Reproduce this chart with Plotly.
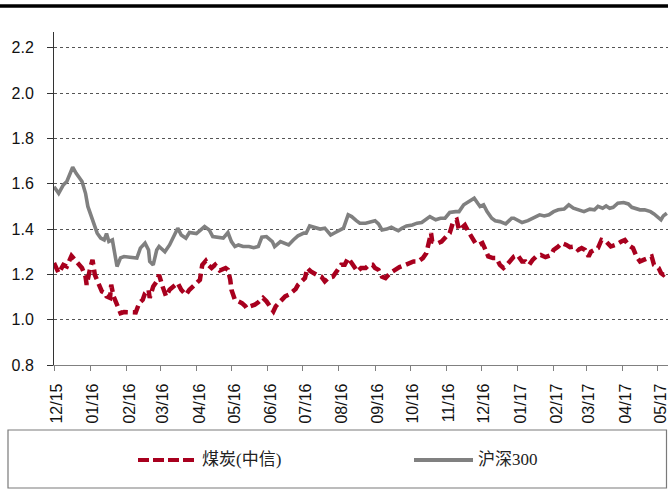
import plotly.graph_objects as go

# ---- data -------------------------------------------------------------
month_ticks = ["2015-12-01", "2016-01-01", "2016-02-01", "2016-03-01", "2016-04-01",
               "2016-05-01", "2016-06-01", "2016-07-01", "2016-08-01", "2016-09-01",
               "2016-10-01", "2016-11-01", "2016-12-01", "2017-01-01", "2017-02-01",
               "2017-03-01", "2017-04-01", "2017-05-01"]
month_labels = ["12/15", "01/16", "02/16", "03/16", "04/16", "05/16", "06/16", "07/16",
                "08/16", "09/16", "10/16", "11/16", "12/16", "01/17", "02/17", "03/17",
                "04/17", "05/17"]

coal_name = "煤炭(中信)"
coal_dates = [
    "2015-12-01", "2015-12-05", "2015-12-09", "2015-12-12", "2015-12-16", "2015-12-22",
    "2015-12-25", "2015-12-28", "2015-12-29", "2016-01-01", "2016-01-03", "2016-01-05",
    "2016-01-07", "2016-01-08", "2016-01-11", "2016-01-14", "2016-01-15", "2016-01-18",
    "2016-01-19", "2016-01-21", "2016-01-24", "2016-01-27", "2016-01-30", "2016-02-04",
    "2016-02-09", "2016-02-12", "2016-02-15", "2016-02-17", "2016-02-20", "2016-02-21",
    "2016-02-24", "2016-02-27", "2016-02-29", "2016-03-03", "2016-03-06", "2016-03-09",
    "2016-03-14", "2016-03-16", "2016-03-19", "2016-03-23", "2016-03-26", "2016-03-30",
    "2016-04-04", "2016-04-06", "2016-04-09", "2016-04-11", "2016-04-14", "2016-04-17",
    "2016-04-21", "2016-04-26", "2016-04-28", "2016-04-30", "2016-05-01", "2016-05-04",
    "2016-05-07", "2016-05-10", "2016-05-13", "2016-05-14", "2016-05-17", "2016-05-21",
    "2016-05-24", "2016-05-28", "2016-05-31", "2016-06-03", "2016-06-06", "2016-06-08",
    "2016-06-12", "2016-06-16", "2016-06-19", "2016-06-22", "2016-06-25", "2016-06-27",
    "2016-06-30", "2016-07-03", "2016-07-05", "2016-07-08", "2016-07-13", "2016-07-17",
    "2016-07-20", "2016-07-23", "2016-07-27", "2016-07-31", "2016-08-03", "2016-08-06",
    "2016-08-09", "2016-08-12", "2016-08-14", "2016-08-17", "2016-08-20", "2016-08-24",
    "2016-08-27", "2016-08-30", "2016-09-01", "2016-09-04", "2016-09-07", "2016-09-10",
    "2016-09-14", "2016-09-18", "2016-09-22", "2016-09-27", "2016-10-01", "2016-10-04",
    "2016-10-08", "2016-10-12", "2016-10-15", "2016-10-16", "2016-10-18", "2016-10-19",
    "2016-10-20", "2016-10-25", "2016-10-28", "2016-10-29", "2016-11-01", "2016-11-04",
    "2016-11-07", "2016-11-10", "2016-11-12", "2016-11-14", "2016-11-17", "2016-11-20",
    "2016-11-23", "2016-11-26", "2016-11-29", "2016-12-02", "2016-12-04", "2016-12-07",
    "2016-12-11", "2016-12-14", "2016-12-17", "2016-12-20", "2016-12-23", "2016-12-26",
    "2016-12-29", "2017-01-01", "2017-01-05", "2017-01-08", "2017-01-11", "2017-01-14",
    "2017-01-17", "2017-01-21", "2017-01-25", "2017-01-30", "2017-02-01", "2017-02-05",
    "2017-02-08", "2017-02-12", "2017-02-15", "2017-02-19", "2017-02-22", "2017-02-25",
    "2017-02-28", "2017-03-03", "2017-03-05", "2017-03-08", "2017-03-11", "2017-03-14",
    "2017-03-18", "2017-03-22", "2017-03-26", "2017-03-31", "2017-04-03", "2017-04-06",
    "2017-04-10", "2017-04-13", "2017-04-16", "2017-04-19", "2017-04-23", "2017-04-26",
    "2017-04-28", "2017-05-02", "2017-05-04", "2017-05-06", "2017-05-09",
]
coal_values = [
    1.250, 1.206, 1.242, 1.235, 1.282, 1.242,
    1.228, 1.190, 1.154, 1.228, 1.264, 1.198,
    1.176, 1.162, 1.125, 1.117, 1.103, 1.096,
    1.154, 1.103, 1.066, 1.029, 1.034, 1.032,
    1.032, 1.073, 1.088, 1.117, 1.132, 1.096,
    1.147, 1.169, 1.198, 1.147, 1.103, 1.132,
    1.154, 1.162, 1.132, 1.110, 1.132, 1.154,
    1.176, 1.242, 1.260, 1.242, 1.228, 1.242,
    1.217, 1.228, 1.220, 1.176, 1.132, 1.088,
    1.081, 1.073, 1.059, 1.051, 1.059, 1.066,
    1.077, 1.096, 1.081, 1.059, 1.037, 1.059,
    1.081, 1.103, 1.110, 1.125, 1.135, 1.154,
    1.169, 1.184, 1.228, 1.213, 1.198, 1.190,
    1.169, 1.184, 1.190, 1.220, 1.242, 1.242,
    1.272, 1.250, 1.238, 1.213, 1.228, 1.228,
    1.242, 1.242, 1.228, 1.220, 1.190, 1.184,
    1.206, 1.220, 1.232, 1.242, 1.250, 1.257,
    1.257, 1.272, 1.294, 1.316, 1.367, 1.382,
    1.345, 1.338, 1.345, 1.352, 1.367, 1.382,
    1.433, 1.441, 1.396, 1.404, 1.418, 1.389,
    1.364, 1.338, 1.330, 1.338, 1.316, 1.279,
    1.272, 1.272, 1.242, 1.228, 1.242, 1.264,
    1.279, 1.286, 1.257, 1.257, 1.242, 1.264,
    1.279, 1.286, 1.276, 1.286, 1.308, 1.323,
    1.338, 1.330, 1.320, 1.323, 1.308, 1.316,
    1.308, 1.279, 1.300, 1.308, 1.316, 1.352,
    1.345, 1.323, 1.330, 1.345, 1.352, 1.330,
    1.316, 1.279, 1.257, 1.264, 1.272, 1.279,
    1.242, 1.228, 1.206, 1.198, 1.213,
]

hs300_name = "沪深300"
hs300_dates = [
    "2015-12-01", "2015-12-05", "2015-12-09", "2015-12-12", "2015-12-17", "2015-12-20",
    "2015-12-25", "2015-12-28", "2015-12-30", "2016-01-02", "2016-01-04", "2016-01-07",
    "2016-01-10", "2016-01-13", "2016-01-15", "2016-01-17", "2016-01-20", "2016-01-23",
    "2016-01-24", "2016-01-27", "2016-01-30", "2016-02-04", "2016-02-10", "2016-02-13",
    "2016-02-17", "2016-02-20", "2016-02-21", "2016-02-24", "2016-02-27", "2016-02-29",
    "2016-03-05", "2016-03-09", "2016-03-14", "2016-03-16", "2016-03-19", "2016-03-23",
    "2016-03-26", "2016-04-01", "2016-04-08", "2016-04-12", "2016-04-15", "2016-04-19",
    "2016-04-24", "2016-04-28", "2016-05-01", "2016-05-04", "2016-05-07", "2016-05-11",
    "2016-05-16", "2016-05-20", "2016-05-24", "2016-05-27", "2016-05-31", "2016-06-05",
    "2016-06-07", "2016-06-12", "2016-06-16", "2016-06-19", "2016-06-23", "2016-06-27",
    "2016-07-02", "2016-07-04", "2016-07-07", "2016-07-12", "2016-07-16", "2016-07-20",
    "2016-07-25", "2016-07-29", "2016-08-02", "2016-08-05", "2016-08-09", "2016-08-12",
    "2016-08-16", "2016-08-19", "2016-08-24", "2016-08-28", "2016-09-01", "2016-09-04",
    "2016-09-07", "2016-09-11", "2016-09-15", "2016-09-18", "2016-09-21", "2016-09-24",
    "2016-09-28", "2016-10-03", "2016-10-07", "2016-10-11", "2016-10-14", "2016-10-18",
    "2016-10-23", "2016-10-27", "2016-10-31", "2016-11-04", "2016-11-09", "2016-11-12",
    "2016-11-16", "2016-11-20", "2016-11-25", "2016-11-28", "2016-11-30", "2016-12-03",
    "2016-12-06", "2016-12-10", "2016-12-13", "2016-12-17", "2016-12-22", "2016-12-24",
    "2016-12-27", "2016-12-29", "2017-01-01", "2017-01-05", "2017-01-10", "2017-01-14",
    "2017-01-20", "2017-01-24", "2017-01-28", "2017-02-01", "2017-02-05", "2017-02-10",
    "2017-02-14", "2017-02-18", "2017-02-22", "2017-02-27", "2017-03-04", "2017-03-08",
    "2017-03-11", "2017-03-15", "2017-03-18", "2017-03-21", "2017-03-24", "2017-03-28",
    "2017-04-02", "2017-04-06", "2017-04-09", "2017-04-12", "2017-04-16", "2017-04-20",
    "2017-04-25", "2017-04-28", "2017-05-02", "2017-05-04", "2017-05-06", "2017-05-09",
]
hs300_values = [
    1.587, 1.558, 1.595, 1.610, 1.673, 1.646,
    1.610, 1.558, 1.500, 1.455, 1.418, 1.382,
    1.360, 1.352, 1.380, 1.345, 1.352, 1.264,
    1.235, 1.273, 1.279, 1.276, 1.272, 1.316,
    1.338, 1.308, 1.257, 1.242, 1.308, 1.323,
    1.300, 1.330, 1.382, 1.404, 1.374, 1.360,
    1.385, 1.380, 1.411, 1.396, 1.367, 1.364,
    1.360, 1.385, 1.345, 1.323, 1.330, 1.323,
    1.323, 1.318, 1.323, 1.364, 1.367, 1.345,
    1.323, 1.345, 1.338, 1.330, 1.352, 1.370,
    1.382, 1.382, 1.414, 1.404, 1.400, 1.404,
    1.374, 1.385, 1.396, 1.404, 1.463, 1.455,
    1.437, 1.426, 1.426, 1.433, 1.437, 1.423,
    1.396, 1.400, 1.408, 1.400, 1.393, 1.404,
    1.414, 1.418, 1.426, 1.429, 1.441, 1.455,
    1.441, 1.448, 1.448, 1.473, 1.477, 1.477,
    1.507, 1.521, 1.536, 1.514, 1.500, 1.507,
    1.477, 1.448, 1.437, 1.433, 1.423, 1.433,
    1.448, 1.448, 1.441, 1.429, 1.437, 1.448,
    1.463, 1.458, 1.463, 1.477, 1.485, 1.488,
    1.507, 1.492, 1.485, 1.477, 1.488, 1.485,
    1.500, 1.492, 1.502, 1.492, 1.496, 1.514,
    1.517, 1.511, 1.496, 1.492, 1.485, 1.485,
    1.477, 1.467, 1.448, 1.441, 1.458, 1.470,
]

# ---- styling ----------------------------------------------------------
W, H = 668, 489
M_L, M_R, M_T, M_B = 54, 0, 32, 124
COAL_COLOR = "#A8001E"
HS_COLOR = "#808080"
COAL_DASH = "10px,5px"
TEXT_FONT = "Liberation Sans, Arial, sans-serif"
LEGEND_FONT = "Liberation Serif, Noto Sans CJK SC, serif"

plot_w = W - M_L - M_R
plot_h = H - M_T - M_B


def px(x):
    """Layout pixel x -> paper coordinate."""
    return (x - M_L) / plot_w


def py(y):
    """Layout pixel y -> paper coordinate."""
    return (H - M_B - y) / plot_h


fig = go.Figure()
fig.add_trace(go.Scatter(x=coal_dates, y=coal_values, name=coal_name, mode="lines",
                         line=dict(color=COAL_COLOR, width=4.5, dash=COAL_DASH)))
fig.add_trace(go.Scatter(x=hs300_dates, y=hs300_values, name=hs300_name, mode="lines",
                         line=dict(color=HS_COLOR, width=3.6)))

shapes = [
    # heavy rule across the top of the figure
    dict(type="line", xref="paper", yref="paper", x0=px(0), x1=px(W), y0=py(6), y1=py(6),
         line=dict(color="#000000", width=3.5)),
    # legend frame
    dict(type="rect", xref="paper", yref="paper", x0=px(8), x1=px(666.5), y0=py(430), y1=py(488),
         line=dict(color="#7a7a7a", width=1.2), fillcolor="rgba(0,0,0,0)"),
    # legend samples
    dict(type="line", xref="paper", yref="paper", x0=px(138), x1=px(196), y0=py(460), y1=py(460),
         line=dict(color=COAL_COLOR, width=4, dash="11px,4px")),
    dict(type="line", xref="paper", yref="paper", x0=px(414), x1=px(473), y0=py(460), y1=py(460),
         line=dict(color=HS_COLOR, width=4)),
]

annotations = [
    dict(xref="paper", yref="paper", x=px(200), y=py(460), text=coal_name, showarrow=False,
         xanchor="left", yanchor="middle", font=dict(family=LEGEND_FONT, size=17, color="#222222")),
    dict(xref="paper", yref="paper", x=px(476), y=py(460), text=hs300_name, showarrow=False,
         xanchor="left", yanchor="middle", font=dict(family=LEGEND_FONT, size=17, color="#222222")),
]

fig.update_layout(
    width=W, height=H,
    margin=dict(l=M_L, r=M_R, t=M_T, b=M_B, autoexpand=False),
    paper_bgcolor="white", plot_bgcolor="white",
    showlegend=False,
    shapes=shapes,
    annotations=annotations,
    font=dict(family=TEXT_FONT, size=16, color="#111111"),
)

fig.update_xaxes(
    type="date",
    range=["2015-12-01", "2017-05-10"],
    tickmode="array", tickvals=month_ticks, ticktext=month_labels,
    tickangle=-90,
    ticks="outside", ticklen=5, tickwidth=1, tickcolor="#808080",
    ticklabelstandoff=6, ticklabelshift=3, ticklabeloverflow="allow",
    showline=True, linecolor="#808080", linewidth=1.2,
    showgrid=False, zeroline=False,
    tickfont=dict(family=TEXT_FONT, size=16, color="#111111"),
)

fig.update_yaxes(
    range=[0.8, 2.27],
    tickmode="linear", tick0=0.8, dtick=0.2, tickformat=".1f",
    ticks="outside", ticklen=6, tickwidth=1, tickcolor="#333333",
    ticklabelstandoff=10,
    showline=True, linecolor="#333333", linewidth=1,
    showgrid=True, gridcolor="#555555", gridwidth=1, griddash="dot",
    zeroline=False,
    tickfont=dict(family=TEXT_FONT, size=16, color="#111111"),
)

fig.write_html("out.html")
